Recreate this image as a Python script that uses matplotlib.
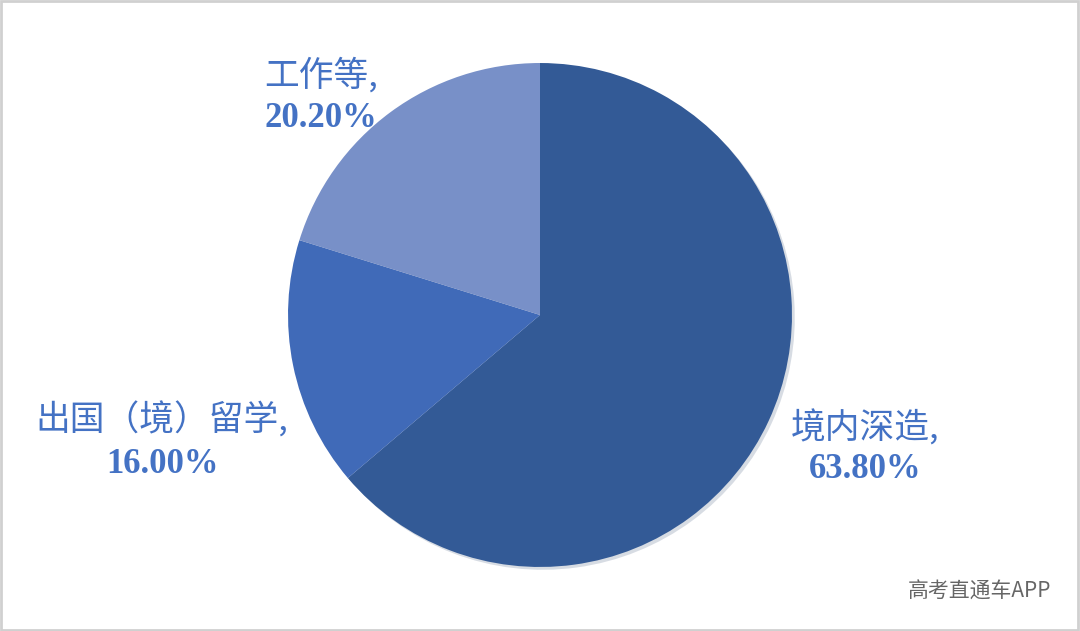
import matplotlib
matplotlib.use("Agg")
import matplotlib.pyplot as plt
from matplotlib.patches import Rectangle

# 毕业去向 占比
labels = ["境内深造", "出国（境）留学", "工作等"]
values = [63.80, 16.00, 20.20]
colors = ["#335A96", "#406AB8", "#7890C8"]

plt.rcParams['font.family'] = ['Noto Sans CJK SC', 'DejaVu Sans']

fig = plt.figure(figsize=(10.8, 6.31), dpi=100)
ax = fig.add_axes([0, 0, 1, 1])

ax.pie(values, colors=colors, startangle=90, counterclock=False,
       radius=1.0, center=(0, 0),
       wedgeprops=dict(linewidth=0),
       shadow=dict(ox=0.008, oy=-0.008, shade=0.3, alpha=0.18))

ax.set_xlim(-2.143, 2.143)
ax.set_ylim(-1.254, 1.250)
ax.set_aspect('equal')
ax.axis('off')

lab_color = "#4472C4"
# label anchors (x, y of name line, y of value line, alignment)
pos = {
    "境内深造": (1.29, -0.45, -0.615, 'center'),
    "出国（境）留学": (-1.50, -0.42, -0.595, 'center'),
    "工作等": (-1.095, 0.95, 0.78, 'left'),
}
for name, v in zip(labels, values):
    x, y1, y2, ha = pos[name]
    ax.text(x, y1, name + ",", color=lab_color, fontsize=25,
            ha=ha, va='center')
    ax.text(x, y2, f"{v:.2f}%", color=lab_color, fontsize=25,
            fontweight='bold', family='Liberation Serif',
            ha=ha, va='center')

fig.text(0.973, 0.062, "高考直通车APP", color="#666666", fontsize=15,
         ha='right', va='center')

fig.patches.append(Rectangle((0.001, 0.002), 0.997, 0.996, transform=fig.transFigure,
                             fill=False, edgecolor="#d0d0d0", linewidth=2))

fig.savefig("out.png", dpi=100)
